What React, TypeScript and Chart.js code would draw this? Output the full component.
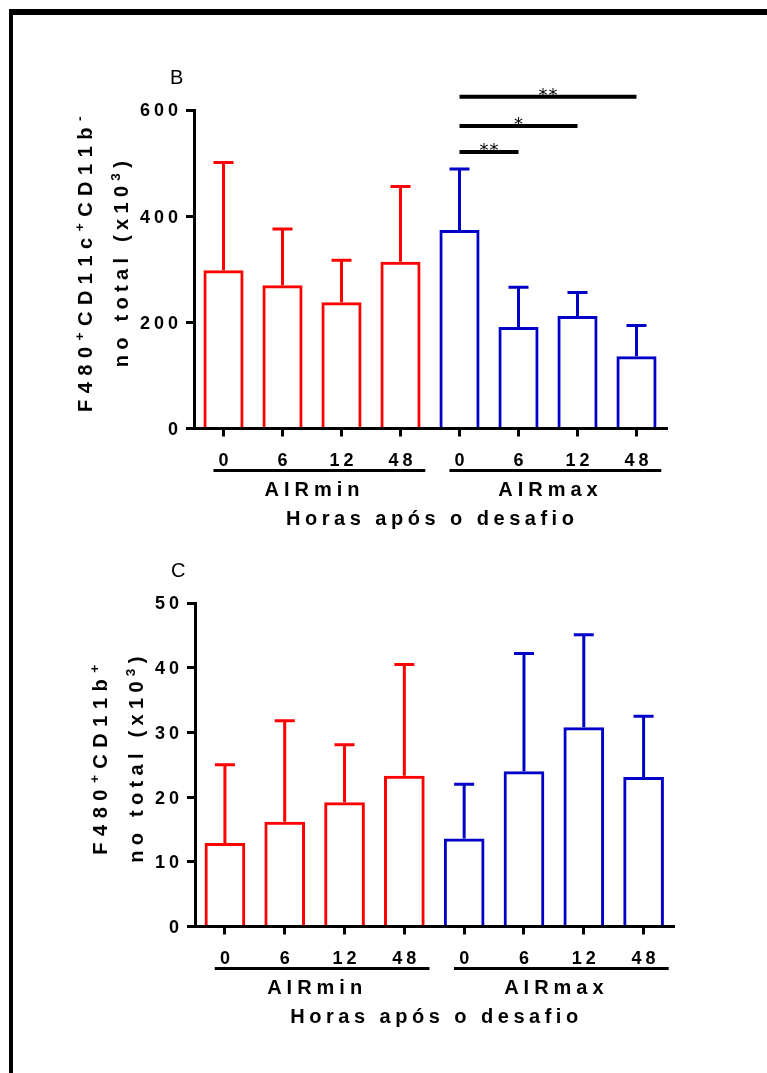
import React, { useEffect, useRef } from "react";
import { Chart, registerables } from "chart.js";

Chart.register(...registerables);

// ---------- data ----------
const hours = ["0", "6", "12", "48", "0", "6", "12", "48"];
const groupNames = ["AIRmin", "AIRmax"];
const groupStart = [0, 4];
const groupEnd = [3, 7];
const groupColors = ["#FF0000", "#0000C8"];
const xTitleText = "Horas após o desafio";

// Panel B
const meanB = [298, 270, 238, 314, 374, 191, 212, 136];
const sdB = [203, 106, 79, 142, 115, 75, 44, 58];
const yTicksB = [0, 200, 400, 600];
const sigFromB = [4, 4, 4];
const sigToB = [5, 6, 7];
const sigLevelB = [521, 570, 625];
const sigTextB = ["**", "*", "**"];

// Panel C
const meanC = [12.9, 16.2, 19.2, 23.3, 13.6, 24.0, 30.8, 23.1];
const sdC = [12.1, 15.6, 8.9, 17.2, 8.4, 18.2, 14.3, 9.4];
const yTicksC = [0, 10, 20, 30, 40, 50];

type Seg = { t: string; sup?: boolean };
const titleB1: Seg[] = [{ t: "F480" }, { t: "+", sup: true }, { t: "CD11c" }, { t: "+", sup: true }, { t: "CD11b" }, { t: "-", sup: true }];
const titleC1: Seg[] = [{ t: "F480" }, { t: "+", sup: true }, { t: "CD11b" }, { t: "+", sup: true }];
const title2: Seg[] = [{ t: "no total (x10" }, { t: "3", sup: true }, { t: ")" }];

// ---------- text helpers ----------
const FONT = '"Liberation Sans", Arial, Helvetica, sans-serif';
const STAR_FONT = '"DejaVu Sans", "Liberation Sans", sans-serif';

type TextOpts = {
  size: number;
  weight?: string;
  spacing?: number;
  align?: "left" | "center" | "right";
  color?: string;
  supScale?: number;
  family?: string;
};

function drawSegs(ctx: CanvasRenderingContext2D, segs: Seg[], x: number, y: number, o: TextOpts): number {
  const weight = o.weight ?? "bold";
  const spacing = o.spacing ?? 0;
  const supScale = o.supScale ?? 0.68;
  const family = o.family ?? FONT;
  const items: { ch: string; font: string; w: number; dy: number }[] = [];
  for (const s of segs) {
    const fs = s.sup ? o.size * supScale : o.size;
    const font = `${weight} ${fs}px ${family}`;
    ctx.font = font;
    for (const ch of Array.from(s.t)) {
      items.push({ ch, font, w: ctx.measureText(ch).width, dy: s.sup ? -o.size * 0.42 : 0 });
    }
  }
  let total = 0;
  items.forEach((it, i) => {
    total += it.w + (i < items.length - 1 ? spacing : 0);
  });
  let cx = o.align === "center" ? x - total / 2 : o.align === "right" ? x - total : x;
  ctx.fillStyle = o.color ?? "#000";
  ctx.textAlign = "left";
  ctx.textBaseline = "alphabetic";
  for (const it of items) {
    ctx.font = it.font;
    ctx.fillText(it.ch, cx, y + it.dy);
    cx += it.w + spacing;
  }
  return total;
}

type PanelCfg = {
  letter: string;
  means: number[];
  sds: number[];
  yTicks: number[];
  title1: Seg[];
  sigFrom: number[];
  sigTo: number[];
  sigLevel: number[];
  sigText: string[];
  h: number;
  top: number;
  area: { left: number; right: number; top: number; bottom: number };
};

const barColors = hours.map((_, i) => groupColors[groupStart.filter((s) => i >= s).length - 1]);

function makePlugin(cfg: PanelCfg) {
  return {
    id: "panelDecor" + cfg.letter,
    afterDatasetsDraw(chart: any) {
      const ctx: CanvasRenderingContext2D = chart.ctx;
      const ys = chart.scales.y;
      const meta = chart.getDatasetMeta(0);
      ctx.save();
      ctx.lineWidth = 3;
      ctx.lineCap = "butt";
      meta.data.forEach((bar: any, i: number) => {
        const x = bar.x;
        const yTop = ys.getPixelForValue(cfg.means[i]);
        const yErr = ys.getPixelForValue(cfg.means[i] + cfg.sds[i]);
        ctx.strokeStyle = barColors[i];
        ctx.beginPath();
        ctx.moveTo(x, yTop);
        ctx.lineTo(x, yErr);
        ctx.moveTo(x - 10, yErr);
        ctx.lineTo(x + 10, yErr);
        ctx.stroke();
      });
      ctx.restore();
    },
    afterDraw(chart: any) {
      const ctx: CanvasRenderingContext2D = chart.ctx;
      const xs = chart.scales.x;
      const ys = chart.scales.y;
      const area = chart.chartArea;
      const step = xs.getPixelForValue(1) - xs.getPixelForValue(0);
      ctx.save();

      // y tick labels
      let minLeft = Infinity;
      ys.ticks.forEach((t: any) => {
        const y = ys.getPixelForValue(t.value);
        const w = drawSegs(ctx, [{ t: String(t.value) }], area.left - 16, y + 18 * 0.358, { size: 18, spacing: 4, align: "right" });
        minLeft = Math.min(minLeft, area.left - 16 - w);
      });

      // x tick labels
      hours.forEach((h, i) => {
        drawSegs(ctx, [{ t: h }], xs.getPixelForValue(i), area.bottom + 37.5, { size: 18, spacing: 4, align: "center" });
      });

      // group lines + labels
      groupNames.forEach((g, gi) => {
        const x1 = xs.getPixelForValue(groupStart[gi]);
        const x2 = xs.getPixelForValue(groupEnd[gi]);
        ctx.strokeStyle = "#000";
        ctx.lineWidth = 3;
        ctx.beginPath();
        ctx.moveTo(x1 - 0.17 * step, area.bottom + 42);
        ctx.lineTo(x2 + 0.42 * step, area.bottom + 42);
        ctx.stroke();
        drawSegs(ctx, [{ t: g }], (x1 + x2) / 2, area.bottom + 67, { size: 20, spacing: 5, align: "center" });
      });

      // x title
      drawSegs(ctx, [{ t: xTitleText }], (area.left + area.right) / 2, area.bottom + 96, { size: 20, spacing: 4.5, align: "center" });

      // panel letter
      drawSegs(ctx, [{ t: cfg.letter }], area.left - 24, area.top - 26, { size: 20, weight: "normal", align: "left" });

      // y title (two rotated lines)
      const line2X = minLeft - 11.5;
      const line1X = line2X - 36;
      const cy = (area.top + area.bottom) / 2 - 5;
      ctx.save();
      ctx.translate(line1X, cy);
      ctx.rotate(-Math.PI / 2);
      drawSegs(ctx, cfg.title1, 0, 0, { size: 20, spacing: 6.5, align: "center" });
      ctx.restore();
      ctx.save();
      ctx.translate(line2X, cy);
      ctx.rotate(-Math.PI / 2);
      drawSegs(ctx, title2, 0, 0, { size: 20, spacing: 5.3, align: "center" });
      ctx.restore();

      // significance bars
      cfg.sigLevel.forEach((lv, j) => {
        const y = ys.getPixelForValue(lv);
        const x1 = xs.getPixelForValue(cfg.sigFrom[j]);
        const x2 = xs.getPixelForValue(cfg.sigTo[j]);
        ctx.strokeStyle = "#000";
        ctx.lineWidth = 4;
        ctx.beginPath();
        ctx.moveTo(x1, y);
        ctx.lineTo(x2, y);
        ctx.stroke();
        drawSegs(ctx, [{ t: cfg.sigText[j] }], (x1 + x2) / 2, y + 4, {
          size: 18,
          weight: "normal",
          spacing: 1,
          align: "center",
          family: STAR_FONT,
        });
      });

      ctx.restore();
    },
  };
}

function makeConfig(cfg: PanelCfg): any {
  const a = cfg.area;
  return {
    type: "bar",
    data: {
      labels: hours,
      datasets: [
        {
          data: cfg.means,
          backgroundColor: "rgba(255,255,255,0)",
          borderColor: barColors,
          borderWidth: 3,
          barPercentage: 0.68,
          categoryPercentage: 1,
        },
      ],
    },
    options: {
      animation: false,
      responsive: false,
      maintainAspectRatio: false,
      devicePixelRatio: 1,
      layout: { padding: { left: 0, top: a.top, right: 767 - a.right, bottom: 0 } },
      plugins: { legend: { display: false }, tooltip: { enabled: false }, title: { display: false } },
      scales: {
        x: {
          type: "category",
          offset: true,
          grid: { display: true, drawOnChartArea: false, drawTicks: true, tickLength: 8, tickWidth: 3, tickColor: "#000", color: "#000", lineWidth: 3, offset: false },
          border: { display: true, color: "#000", width: 3 },
          ticks: { display: false },
          afterFit: (s: any) => {
            s.height = cfg.h - a.bottom;
          },
        },
        y: {
          min: cfg.yTicks[0],
          max: cfg.yTicks[cfg.yTicks.length - 1],
          grid: { display: true, drawOnChartArea: false, drawTicks: true, tickLength: 8, tickWidth: 3, tickColor: "#000", color: "#000", lineWidth: 3 },
          border: { display: true, color: "#000", width: 3 },
          ticks: { display: false },
          afterBuildTicks: (s: any) => {
            s.ticks = cfg.yTicks.map((v) => ({ value: v }));
          },
          afterFit: (s: any) => {
            s.width = a.left;
          },
        },
      },
    },
    plugins: [makePlugin(cfg)],
  };
}

const panelB: PanelCfg = {
  letter: "B",
  means: meanB,
  sds: sdB,
  yTicks: yTicksB,
  title1: titleB1,
  sigFrom: sigFromB,
  sigTo: sigToB,
  sigLevel: sigLevelB,
  sigText: sigTextB,
  h: 540,
  top: 0,
  area: { left: 194, right: 666, top: 110, bottom: 428.5 },
};

const panelC: PanelCfg = {
  letter: "C",
  means: meanC,
  sds: sdC,
  yTicks: yTicksC,
  title1: titleC1,
  sigFrom: [],
  sigTo: [],
  sigLevel: [],
  sigText: [],
  h: 533,
  top: 540,
  area: { left: 195, right: 673.5, top: 63, bottom: 386.5 },
};

function Panel({ cfg }: { cfg: PanelCfg }) {
  const ref = useRef<HTMLCanvasElement>(null);
  useEffect(() => {
    const chart = new Chart(ref.current as HTMLCanvasElement, makeConfig(cfg));
    return () => chart.destroy();
  }, [cfg]);
  return (
    <canvas
      ref={ref}
      width={767}
      height={cfg.h}
      style={{ position: "absolute", left: 0, top: cfg.top, width: 767, height: cfg.h, display: "block" }}
    />
  );
}

export default function App() {
  return (
    <div style={{ position: "absolute", left: 0, top: 0, width: 767, height: 1073, background: "#fff", overflow: "hidden" }}>
      <Panel cfg={panelB} />
      <Panel cfg={panelC} />
      <div style={{ position: "absolute", left: 9, top: 9, width: 758, height: 6, background: "#000" }} />
      <div style={{ position: "absolute", left: 9, top: 9, width: 4, height: 1064, background: "#000" }} />
    </div>
  );
}
